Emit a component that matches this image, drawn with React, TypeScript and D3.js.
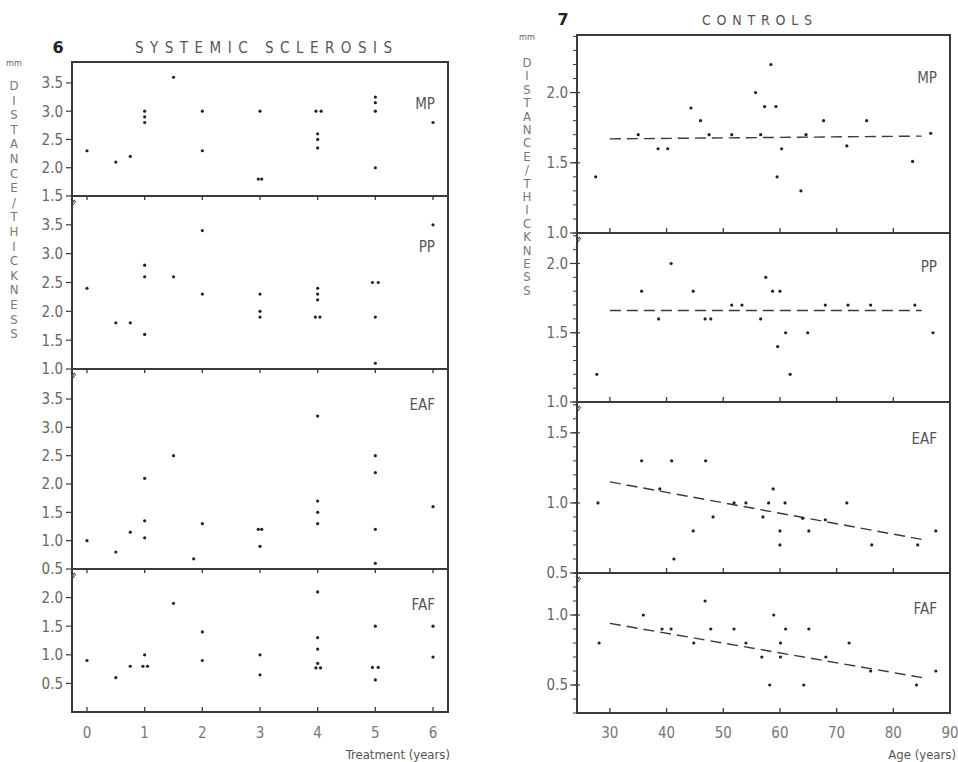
import React from 'react';
import * as d3 from 'd3';

// ---- data: [x, y] pairs ----
const treatmentTicks = [0, 1, 2, 3, 4, 5, 6];
const ageTicks = [30, 40, 50, 60, 70, 80, 90];

const sscMP: [number, number][] = [
  [0, 2.3], [0.5, 2.1], [0.75, 2.2], [1, 3.0], [1, 2.9], [1, 2.8], [1.5, 3.6],
  [2, 3.0], [2, 2.3], [3, 3.0], [2.97, 1.8], [3.03, 1.8], [3.97, 3.0], [4.06, 3.0],
  [4, 2.6], [4, 2.5], [4, 2.35], [5, 3.25], [5, 3.15], [5, 3.0], [5, 2.0], [6, 2.8],
];
const sscPP: [number, number][] = [
  [0, 2.4], [0.5, 1.8], [0.75, 1.8], [1, 2.8], [1, 2.6], [1, 1.6], [1.5, 2.6],
  [2, 3.4], [2, 2.3], [3, 2.3], [3, 2.0], [3, 1.9], [4, 2.4], [4, 2.3], [4, 2.2],
  [3.96, 1.9], [4.04, 1.9], [4.95, 2.5], [5.05, 2.5], [5, 1.9], [5, 1.1], [6, 3.5],
];
const sscEAF: [number, number][] = [
  [0, 1.0], [0.5, 0.8], [0.75, 1.15], [1, 2.1], [1, 1.35], [1, 1.05], [1.5, 2.5],
  [1.85, 0.68], [2, 1.3], [2.97, 1.2], [3.03, 1.2], [3, 0.9], [4, 3.2], [4, 1.7],
  [4, 1.5], [4, 1.3], [5, 2.5], [5, 2.2], [5, 1.2], [5, 0.6], [6, 1.6],
];
const sscFAF: [number, number][] = [
  [0, 0.9], [0.5, 0.6], [0.75, 0.8], [1, 1.0], [0.97, 0.8], [1.05, 0.8], [1.5, 1.9],
  [2, 1.4], [2, 0.9], [3, 1.0], [3, 0.65], [4, 2.1], [4, 1.3], [4, 1.1], [4, 0.85],
  [3.97, 0.77], [4.05, 0.77], [5, 1.5], [4.95, 0.78], [5.05, 0.78], [5, 0.56],
  [6, 1.5], [6, 0.96],
];

const ctrlMP: [number, number][] = [
  [27.5, 1.4], [35, 1.7], [38.5, 1.6], [40.2, 1.6], [44.3, 1.89], [46, 1.8], [47.5, 1.7],
  [51.5, 1.7], [55.7, 2.0], [56.6, 1.7], [57.3, 1.9], [58.4, 2.2], [59.3, 1.9], [59.5, 1.4],
  [60.3, 1.6], [63.7, 1.3], [64.6, 1.7], [67.7, 1.8], [71.8, 1.62], [75.3, 1.8],
  [83.4, 1.51], [86.6, 1.71],
];
const ctrlPP: [number, number][] = [
  [27.7, 1.2], [35.6, 1.8], [38.6, 1.6], [40.8, 2.0], [44.7, 1.8], [46.8, 1.6], [47.8, 1.6],
  [51.5, 1.7], [53.3, 1.7], [56.6, 1.6], [57.5, 1.9], [58.7, 1.8], [60, 1.8], [59.6, 1.4],
  [61, 1.5], [61.8, 1.2], [64.9, 1.5], [68, 1.7], [72, 1.7], [76, 1.7], [83.8, 1.7], [87, 1.5],
];
const ctrlEAF: [number, number][] = [
  [27.9, 1.0], [35.6, 1.3], [38.8, 1.1], [40.9, 1.3], [41.3, 0.6], [44.7, 0.8], [46.9, 1.3],
  [48.2, 0.9], [51.9, 1.0], [54, 1.0], [57, 0.9], [58, 1.0], [58.8, 1.1], [60, 0.8],
  [60, 0.7], [60.9, 1.0], [64, 0.89], [65.1, 0.8], [68, 0.88], [71.8, 1.0], [76.2, 0.7],
  [84.3, 0.7], [87.5, 0.8],
];
const ctrlFAF: [number, number][] = [
  [28.1, 0.8], [35.9, 1.0], [39.2, 0.9], [40.8, 0.9], [44.8, 0.8], [46.8, 1.1], [47.8, 0.9],
  [51.9, 0.9], [54, 0.8], [56.8, 0.7], [58.2, 0.5], [58.9, 1.0], [60.1, 0.8], [60.1, 0.7],
  [61, 0.9], [64.2, 0.5], [65.1, 0.9], [68.1, 0.7], [72.2, 0.8], [76, 0.6], [84.1, 0.5],
  [87.5, 0.6],
];

// regression lines (end points)
const ctrlMPFit: [number, number][] = [[30, 1.67], [85, 1.69]];
const ctrlPPFit: [number, number][] = [[30, 1.66], [85, 1.66]];
const ctrlEAFFit: [number, number][] = [[30, 1.15], [85, 0.74]];
const ctrlFAFFit: [number, number][] = [[30, 0.94], [85.5, 0.55]];

const yTitle = 'DISTANCE/THICKNESS';

const FONT = "'DejaVu Sans Condensed', 'Liberation Sans Narrow', sans-serif";
const INK = '#3a3a3a';
const TXT = '#666';

type Panel = {
  label: string;
  pts: [number, number][];
  top: number;
  bottom: number;
  domain: [number, number];
  ticks: number[];
  labelDy: number;
  fit?: [number, number][];
};

const leftPanels: Panel[] = [
  { label: 'MP', pts: sscMP, top: 62, bottom: 196, domain: [1.5, 3.87], ticks: [1.5, 2, 2.5, 3, 3.5], labelDy: 47 },
  { label: 'PP', pts: sscPP, top: 196, bottom: 369, domain: [1.0, 4.0], ticks: [1, 1.5, 2, 2.5, 3, 3.5], labelDy: 56 },
  { label: 'EAF', pts: sscEAF, top: 369, bottom: 569, domain: [0.5, 4.03], ticks: [0.5, 1, 1.5, 2, 2.5, 3, 3.5], labelDy: 41 },
  { label: 'FAF', pts: sscFAF, top: 569, bottom: 712, domain: [0, 2.5], ticks: [0.5, 1, 1.5, 2], labelDy: 41 },
];

const rightPanels: Panel[] = [
  { label: 'MP', pts: ctrlMP, top: 35, bottom: 233, domain: [1.0, 2.41], ticks: [1, 1.5, 2], labelDy: 48, fit: ctrlMPFit },
  { label: 'PP', pts: ctrlPP, top: 233, bottom: 402, domain: [1.0, 2.22], ticks: [1, 1.5, 2], labelDy: 39, fit: ctrlPPFit },
  { label: 'EAF', pts: ctrlEAF, top: 402, bottom: 573, domain: [0.5, 1.72], ticks: [0.5, 1, 1.5], labelDy: 42, fit: ctrlEAFFit },
  { label: 'FAF', pts: ctrlFAF, top: 573, bottom: 713, domain: [0.3, 1.3], ticks: [0.5, 1], labelDy: 41, fit: ctrlFAFFit },
];

const breakMark = (x: number, top: number) =>
  `M${x + 3},${top + 4} C${x - 3},${top + 7} ${x + 3},${top + 11} ${x - 1},${top + 15}`;
const checkMark = (x: number, top: number) =>
  `M${x - 1},${top + 3} L${x + 1},${top + 9} L${x + 4},${top + 5}`;

function Chart({
  panels, x, xTicks, left, right, minor, tickDown,
}: {
  panels: Panel[];
  x: d3.ScaleLinear<number, number>;
  xTicks: number[];
  left: number;
  right: number;
  minor: boolean;
  tickDown: boolean;
}) {
  const top = panels[0].top;
  const bottom = panels[panels.length - 1].bottom;
  return (
    <g>
      {panels.map((p, i) => {
        const y = d3.scaleLinear().domain(p.domain).range([p.bottom, p.top]);
        const line = d3.line<[number, number]>().x(d => x(d[0])).y(d => y(d[1]));
        const minorTicks = minor
          ? d3.range(Math.ceil(p.domain[0] * 10), Math.floor(p.domain[1] * 10) + 1).map(v => v / 10)
          : [];
        const last = i === panels.length - 1;
        return (
          <g key={p.label}>
            {minorTicks.map(t => (
              <line key={'m' + t} x1={left - 4} x2={left} y1={y(t)} y2={y(t)} stroke={INK} strokeWidth={1} />
            ))}
            {p.ticks.map(t => (
              <g key={t}>
                <line x1={left - (minor ? 7 : 6)} x2={left + (minor ? 3 : 0)} y1={y(t)} y2={y(t)} stroke={INK} strokeWidth={1.2} />
                <text x={left - 9} y={y(t)} dy="0.36em" textAnchor="end" fontSize={15} fill={TXT} fontFamily={FONT}>
                  {t.toFixed(1)}
                </text>
              </g>
            ))}
            {xTicks.map(t => (
              <line
                key={'x' + t}
                x1={x(t)} x2={x(t)}
                y1={p.bottom}
                y2={!last && tickDown ? p.bottom + 4 : p.bottom - 5}
                stroke={INK} strokeWidth={1.3}
              />
            ))}
            {p.fit && (
              <path d={line(p.fit) ?? ''} fill="none" stroke={INK} strokeWidth={1.4} strokeDasharray="11,6" />
            )}
            {p.pts.map((d, k) => (
              <circle key={k} cx={x(d[0])} cy={y(d[1])} r={1.6} fill="#222" />
            ))}
            <text x={right - 13} y={p.top + p.labelDy} textAnchor="end" fontSize={15} fill="#555" fontFamily={FONT}>
              {p.label}
            </text>
            {i > 0 && (
              <>
                <path d={breakMark(left, p.top)} fill="none" stroke={INK} strokeWidth={1.2} />
                <path d={checkMark(left, p.top)} fill="none" stroke={INK} strokeWidth={1} />
              </>
            )}
            {!last && <line x1={left} x2={right} y1={p.bottom} y2={p.bottom} stroke={INK} strokeWidth={2} />}
          </g>
        );
      })}
      <rect x={left} y={top} width={right - left} height={bottom - top} fill="none" stroke={INK} strokeWidth={2} />
      {xTicks.map(t => (
        <text key={t} x={x(t)} y={733} dy="0.36em" textAnchor="middle" fontSize={15} fill="#777" fontFamily={FONT}>
          {t}
        </text>
      ))}
    </g>
  );
}

export default function App() {
  const xLeft = d3.scaleLinear().domain([-0.26, 6.26]).range([72, 448]);
  const xRight = d3.scaleLinear().domain([24.2, 90]).range([577, 950]);
  const letters = yTitle.split('');
  return (
    <svg width={958} height={762} style={{ position: 'absolute', left: 0, top: 0, background: '#fff' }}>
      {/* left figure */}
      <text x={58} y={53} textAnchor="middle" fontSize={16} fontWeight="bold" fill="#222" fontFamily="'DejaVu Sans', sans-serif">6</text>
      <text x={135} y={53} textLength={257} lengthAdjust="spacing" fontSize={15} fill="#555" fontFamily={FONT}>
        SYSTEMIC SCLEROSIS
      </text>
      <text x={14} y={66} textAnchor="middle" fontSize={9} fill="#666" fontFamily={FONT}>mm</text>
      {letters.map((c, i) => (
        <text key={i} x={14} y={90 + i * 14.6} textAnchor="middle" fontSize={13} fill="#777" fontFamily={FONT}>{c}</text>
      ))}
      <Chart panels={leftPanels} x={xLeft} xTicks={treatmentTicks} left={72} right={448} minor={false} tickDown={true} />
      <text x={450} y={754} dy="0.36em" textAnchor="end" fontSize={13} fill="#555" fontFamily={FONT}>Treatment (years)</text>

      {/* right figure */}
      <text x={563} y={25} textAnchor="middle" fontSize={16} fontWeight="bold" fill="#222" fontFamily="'DejaVu Sans', sans-serif">7</text>
      <text x={702} y={25} textLength={110} lengthAdjust="spacing" fontSize={14} fill="#555" fontFamily={FONT}>CONTROLS</text>
      <text x={527} y={40} textAnchor="middle" fontSize={9} fill="#666" fontFamily={FONT}>mm</text>
      {letters.map((c, i) => (
        <text key={i} x={527} y={67 + i * 13.4} textAnchor="middle" fontSize={13} fill="#777" fontFamily={FONT}>{c}</text>
      ))}
      <Chart panels={rightPanels} x={xRight} xTicks={ageTicks} left={577} right={950} minor={true} tickDown={false} />
      <text x={956} y={754} dy="0.36em" textAnchor="end" fontSize={13} fill="#555" fontFamily={FONT}>Age (years)</text>
    </svg>
  );
}
